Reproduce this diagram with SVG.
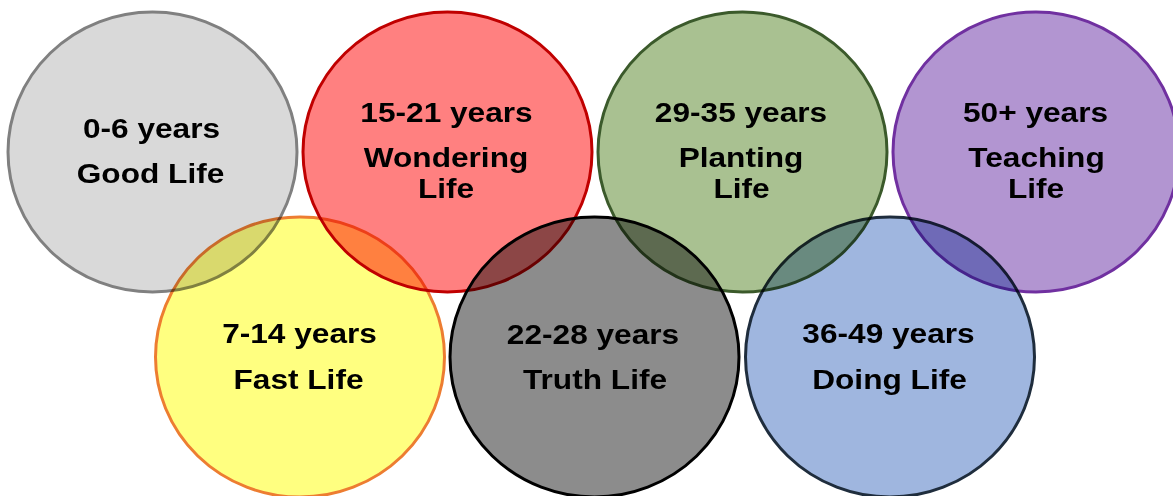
<svg xmlns="http://www.w3.org/2000/svg" width="1173" height="496" viewBox="0 0 1173 496">
  <style>
    .ring { stroke-width: 3; mix-blend-mode: multiply; }
    .label { font-family: "Liberation Sans", Arial, sans-serif; font-weight: bold; font-size: 28px; fill: #000; text-anchor: middle; }
  </style>
  <rect width="1173" height="496" fill="#ffffff"/>

  <!-- top row -->
  <g id="good-life">
    <ellipse class="ring" cx="152.5" cy="152" rx="144.5" ry="140" fill="#d9d9d9" stroke="#808080"/>
    <text class="label" transform="matrix(1.13 0 0 1 151.5 138)">0-6 years</text>
    <text class="label" transform="matrix(1.13 0 0 1 150.5 183)">Good Life</text>
  </g>

  <g id="wondering-life">
    <ellipse class="ring" cx="447.5" cy="152" rx="144.5" ry="140" fill="#ff8080" stroke="#c00000"/>
    <text class="label" transform="matrix(1.13 0 0 1 446.5 122)">15-21 years</text>
    <text class="label" transform="matrix(1.13 0 0 1 446 167)">Wondering</text>
    <text class="label" transform="matrix(1.13 0 0 1 446 198)">Life</text>
  </g>

  <g id="planting-life">
    <ellipse class="ring" cx="742.5" cy="152" rx="144.5" ry="140" fill="#a9c191" stroke="#3b5a2b"/>
    <text class="label" transform="matrix(1.13 0 0 1 741 122)">29-35 years</text>
    <text class="label" transform="matrix(1.13 0 0 1 741 167)">Planting</text>
    <text class="label" transform="matrix(1.13 0 0 1 741.5 198)">Life</text>
  </g>

  <g id="teaching-life">
    <ellipse class="ring" cx="1036" cy="152" rx="143" ry="140" fill="#b295d1" stroke="#7030a0"/>
    <text class="label" transform="matrix(1.13 0 0 1 1035.5 122)">50+ years</text>
    <text class="label" transform="matrix(1.13 0 0 1 1036.5 167)">Teaching</text>
    <text class="label" transform="matrix(1.13 0 0 1 1036 198)">Life</text>
  </g>

  <!-- bottom row -->
  <g id="fast-life">
    <ellipse class="ring" cx="300" cy="357" rx="144.5" ry="140" fill="#ffff80" stroke="#ed7d31"/>
    <text class="label" transform="matrix(1.13 0 0 1 299.5 343)">7-14 years</text>
    <text class="label" transform="matrix(1.13 0 0 1 298.5 389)">Fast Life</text>
  </g>

  <g id="truth-life">
    <ellipse class="ring" cx="594.5" cy="357" rx="144.5" ry="140" fill="#8c8c8c" stroke="#000000"/>
    <text class="label" transform="matrix(1.13 0 0 1 593 344)">22-28 years</text>
    <text class="label" transform="matrix(1.13 0 0 1 595 389)">Truth Life</text>
  </g>

  <g id="doing-life">
    <ellipse class="ring" cx="890" cy="357" rx="144.5" ry="140" fill="#9fb6df" stroke="#1f2d3d"/>
    <text class="label" transform="matrix(1.13 0 0 1 888.5 343)">36-49 years</text>
    <text class="label" transform="matrix(1.13 0 0 1 889.5 389)">Doing Life</text>
  </g>
</svg>
